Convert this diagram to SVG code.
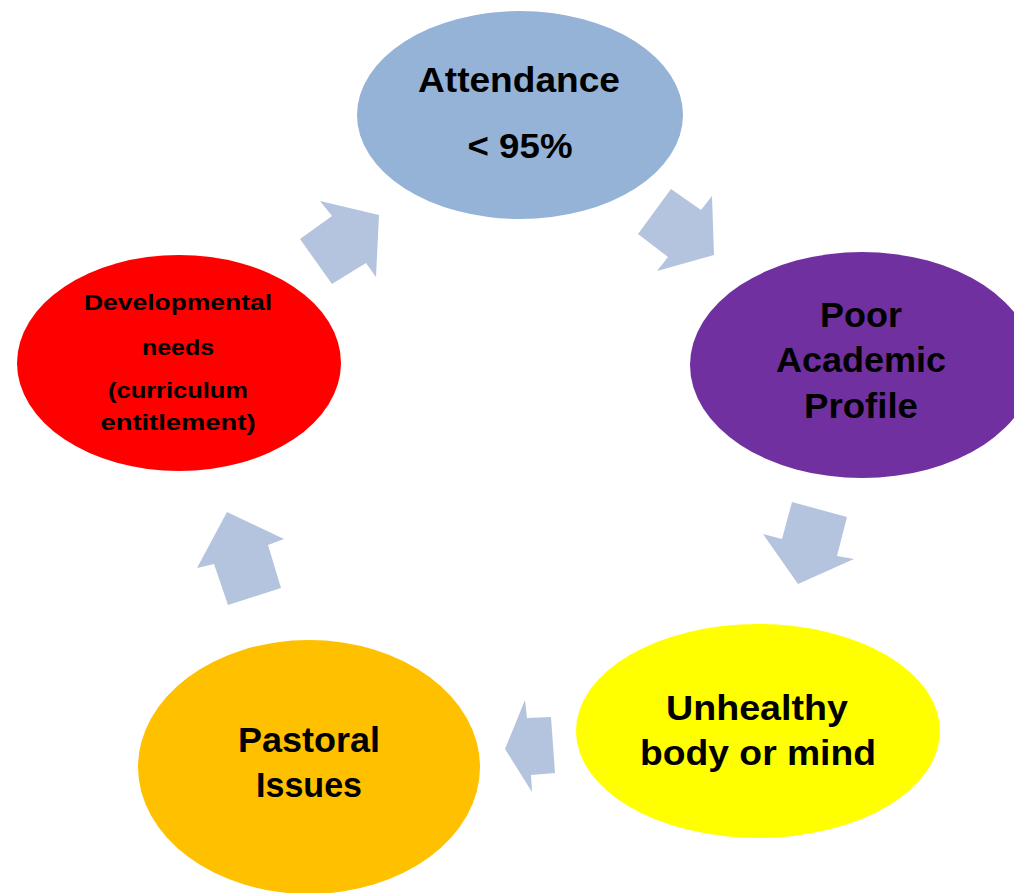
<svg xmlns="http://www.w3.org/2000/svg" width="1014" height="893" viewBox="0 0 1014 893">
  <style>
    .lbl { font-family: "Liberation Sans", Arial, sans-serif; font-weight: bold; fill: #000; text-anchor: middle; }
    .big { font-size: 35px; }
    .small { font-size: 22px; }
    .arrow { fill: #B4C4DE; }
  </style>
  <rect width="1014" height="893" fill="#fff"/>

  <!-- block arrows linking the cycle -->
  <g id="connectors">
    <polygon class="arrow" points="320,201 332,216 300,239 332,284 366,263 376,277 379,215"/>
    <polygon class="arrow" points="671,189 701,210 712,196 714,255 657,271 668,257 638,234"/>
    <polygon class="arrow" points="792,502 847,517 837,556 854,559 798,584 763,534 782,539"/>
    <polygon class="arrow" points="525,700 527,718 551,717 555,773 531,775 532,792 505,749"/>
    <polygon class="arrow" points="227,512 284,539 268,545 281,588 228,605 214,564 197,568"/>
  </g>

  <g id="attendance">
    <ellipse cx="520" cy="115" rx="163" ry="104" fill="#95B3D7"/>
    <text class="lbl big" x="519" y="92" textLength="202" lengthAdjust="spacingAndGlyphs">Attendance</text>
    <text class="lbl big" x="520" y="158" textLength="105" lengthAdjust="spacingAndGlyphs">&lt; 95%</text>
  </g>

  <g id="academic">
    <ellipse cx="862" cy="365" rx="172" ry="113" fill="#7030A0"/>
    <text class="lbl big" x="861" y="327" textLength="82" lengthAdjust="spacingAndGlyphs">Poor</text>
    <text class="lbl big" x="861" y="372" textLength="170" lengthAdjust="spacingAndGlyphs">Academic</text>
    <text class="lbl big" x="861" y="418" textLength="114" lengthAdjust="spacingAndGlyphs">Profile</text>
  </g>

  <g id="unhealthy">
    <ellipse cx="758" cy="731" rx="182" ry="107" fill="#FFFF00"/>
    <text class="lbl big" x="757" y="720" textLength="182" lengthAdjust="spacingAndGlyphs">Unhealthy</text>
    <text class="lbl big" x="758" y="765" textLength="236" lengthAdjust="spacingAndGlyphs">body or mind</text>
  </g>

  <g id="pastoral">
    <ellipse cx="309" cy="767" rx="171" ry="127" fill="#FFC000"/>
    <text class="lbl big" x="309" y="752" textLength="142" lengthAdjust="spacingAndGlyphs">Pastoral</text>
    <text class="lbl big" x="309" y="797" textLength="106" lengthAdjust="spacingAndGlyphs">Issues</text>
  </g>

  <g id="developmental">
    <ellipse cx="179" cy="363" rx="162" ry="108" fill="#FF0000"/>
    <text class="lbl small" x="178" y="310" textLength="188" lengthAdjust="spacingAndGlyphs">Developmental</text>
    <text class="lbl small" x="178" y="355" textLength="72" lengthAdjust="spacingAndGlyphs">needs</text>
    <text class="lbl small" x="178" y="398" textLength="140" lengthAdjust="spacingAndGlyphs">(curriculum</text>
    <text class="lbl small" x="178" y="430" textLength="155" lengthAdjust="spacingAndGlyphs">entitlement)</text>
  </g>
</svg>
